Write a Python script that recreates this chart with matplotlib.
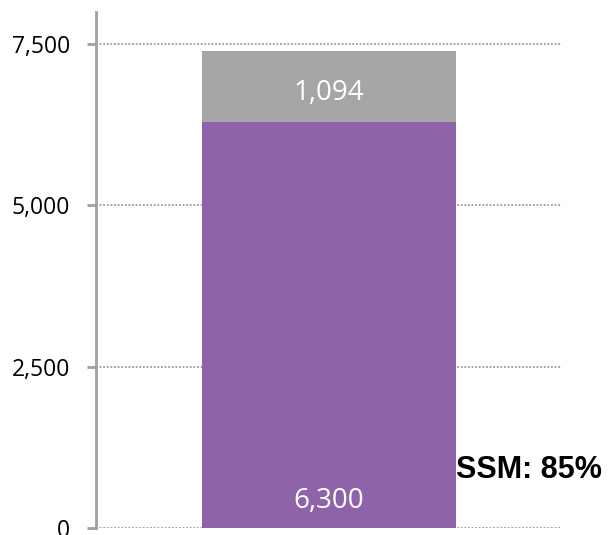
import matplotlib.pyplot as plt
from matplotlib.ticker import FuncFormatter

# Werte aus dem Diagramm
kategorie = ['']
basis = [6300]
aufschlag = [1094]
y_ticks = [0, 2500, 5000, 7500]
anteil_text = 'SSM: 85%'

lila = '#8E63AA'
grau = '#A6A6A6'
achse = '#A0A0A0'
balken_breite = 0.543

fig = plt.figure(figsize=(6.1, 5.35), dpi=100)
ax = fig.add_axes([0.1574, 0.0131, 0.7639, 0.9645])

x = range(len(kategorie))
ax.bar(x, basis, width=balken_breite, color=lila, zorder=3)
ax.bar(x, aufschlag, bottom=basis, width=balken_breite, color=grau, zorder=3)

# Beschriftungen in den Balken
for i in x:
    ax.annotate(f'{basis[i]:,}', xy=(i, 0), xytext=(0, 19.5), textcoords='offset points',
                ha='center', va='center', color='white', fontsize=20,
                family='Open Sans', zorder=4)
    ax.annotate(f'{aufschlag[i]:,}', xy=(i, basis[i] + aufschlag[i] / 2), xytext=(0, -5),
                textcoords='offset points', ha='center', va='center', color='white',
                fontsize=20, family='Open Sans', zorder=4)

ax.text(balken_breite / 2, 900, anteil_text, ha='left', va='center', fontsize=22,
        fontweight='bold', family='Liberation Sans', color='black', zorder=5)

ax.set_xlim(-0.5, 0.5)
ax.set_ylim(0, 8000)
ax.set_yticks(y_ticks)
ax.yaxis.set_major_formatter(FuncFormatter(lambda v, p: f'{int(v):,}'))
ax.set_xticks([])

ax.grid(axis='y', linestyle=(0, (1, 1)), color='#999999', linewidth=1.3, zorder=1)
for s in ['top', 'right', 'bottom']:
    ax.spines[s].set_visible(False)
ax.spines['left'].set_color(achse)
ax.spines['left'].set_linewidth(2)
ax.tick_params(axis='y', length=6.5, width=2, color=achse, pad=12,
               labelsize=16.5, labelcolor='black')
for lab in ax.get_yticklabels():
    lab.set_family('Open Sans')

fig.savefig('out.png', dpi=100)
